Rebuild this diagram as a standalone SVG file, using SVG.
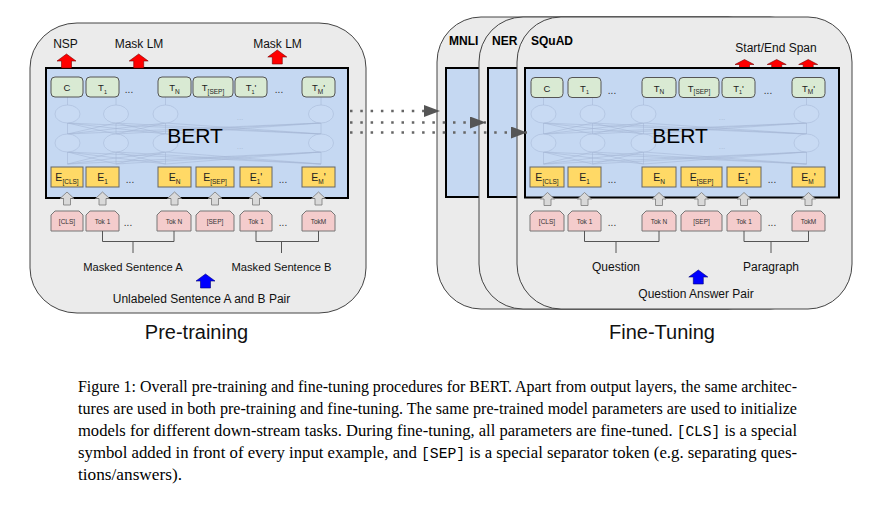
<svg xmlns="http://www.w3.org/2000/svg" xmlns:xlink="http://www.w3.org/1999/xlink" width="882" height="505" viewBox="0 0 882 505">
<style>
.panel{fill:#ebebeb;stroke:#444;stroke-width:1}
.bert{fill:#c5d8f2;stroke:#000;stroke-width:2}
.g{fill:#d9ead3;stroke:#555;stroke-width:1}
.y{fill:#ffd966;stroke:#666;stroke-width:1}
.p{fill:#f4cccc;stroke:#777;stroke-width:1}
.sans{font-family:"Liberation Sans",Arial,Helvetica,sans-serif;fill:#111}
.tg{font-family:"Liberation Sans",Arial,sans-serif;font-size:9.5px;fill:#222;text-anchor:middle}
.ty{font-family:"Liberation Sans",Arial,sans-serif;font-size:10.5px;fill:#222;text-anchor:middle}
.tp{font-family:"Liberation Sans",Arial,sans-serif;font-size:6.5px;fill:#333;text-anchor:middle}
.sb{font-size:6.5px}
.sb5{font-size:5.5px}
.dots{font-family:"Liberation Sans",Arial,sans-serif;font-size:10px;fill:#333;text-anchor:middle}
.mid{text-anchor:middle}
.lab{font-size:12px}
.labs{font-size:11.2px}
.task{font-family:"Liberation Sans",Arial,sans-serif;font-size:12px;font-weight:bold;fill:#000}
.big{font-size:20px}
.bertt{font-family:"Liberation Sans",Arial,sans-serif;font-size:21px;fill:#000;text-anchor:middle}
.net{fill:none;stroke:#a3b4d2;stroke-width:0.7;opacity:0.75}
.ell{fill:#c9dbf4;stroke:#a9bad8;stroke-width:0.7;opacity:0.8}
.fdots{font-family:"Liberation Sans",Arial,sans-serif;font-size:8px;fill:#a9b9d3;text-anchor:middle}
.red{fill:#ff0000;stroke:#7a0000;stroke-width:0.6}
.blue{fill:#0000ff;stroke:#00007a;stroke-width:0.6}
.gray{fill:#d9d9d9;stroke:#7a7a7a;stroke-width:0.8}
.br{fill:none;stroke:#555;stroke-width:1}
.dot{fill:none;stroke:#666;stroke-width:2.5;stroke-dasharray:2.5 7.8}
.cap{font-family:"Liberation Serif","Times New Roman",serif;font-size:16.5px;fill:#000}
.mono{font-family:"Liberation Mono","Courier New",monospace;font-size:14.5px}
</style>
<defs>
<path id="bigArrow" d="M0,0 L9.5,7 L5,7 L5,14 L-5,14 L-5,7 L-9.5,7 Z"/>
<path id="spanArrow" d="M0,0 L9.5,5 L5,5 L5,10 L-5,10 L-5,5 L-9.5,5 Z"/>
<path id="smallArrow" d="M0,0 L7,6.5 L3.5,6.5 L3.5,13 L-3.5,13 L-3.5,6.5 L-7,6.5 Z"/>
<marker id="ah" markerUnits="userSpaceOnUse" markerWidth="16" markerHeight="12" refX="16" refY="6" orient="auto">
<path d="M0,0 L16,6 L0,12 Z" fill="#555"/>
</marker>
</defs>

<!-- ============ PRE-TRAINING ============ -->
<g id="pretrain-panel">
<rect class="panel" x="30" y="23" width="336" height="290" rx="47" ry="45"/>
<rect class="bert" x="46" y="68" width="302" height="130"/>
<g id="pre-net">
<path class="net" d="M67.5 97V105M116 97V105M165.5 97V105M321 97V105M67.5 123V134M116 123V134M165.5 123V134M321 123V134M67.5 152V164M116 152V164M165.5 152V164M321 152V164"/>
<path class="net" d="M67.5 134L116 123M67.5 134L165.5 123M67.5 134L321 123M116 134L67.5 123M116 134L165.5 123M116 134L321 123M165.5 134L67.5 123M165.5 134L116 123M165.5 134L321 123M321 134L67.5 123M321 134L116 123M321 134L165.5 123M67.5 164L116 152M67.5 164L165.5 152M67.5 164L321 152M116 164L67.5 152M116 164L165.5 152M116 164L321 152M165.5 164L67.5 152M165.5 164L116 152M165.5 164L321 152M321 164L67.5 152M321 164L116 152M321 164L165.5 152"/>
<ellipse class="ell" cx="67.5" cy="114" rx="12.5" ry="9"/>
<ellipse class="ell" cx="116" cy="114" rx="12.5" ry="9"/>
<ellipse class="ell" cx="165.5" cy="114" rx="12.5" ry="9"/>
<ellipse class="ell" cx="321" cy="114" rx="12.5" ry="9"/>
<ellipse class="ell" cx="67.5" cy="143" rx="12.5" ry="9"/>
<ellipse class="ell" cx="116" cy="143" rx="12.5" ry="9"/>
<ellipse class="ell" cx="165.5" cy="143" rx="12.5" ry="9"/>
<ellipse class="ell" cx="321" cy="143" rx="12.5" ry="9"/>
<text class="fdots" x="240" y="120">...</text>
<text class="fdots" x="240" y="149">...</text>
</g>
<text class="bertt" x="195" y="143">BERT</text>
</g>

<g id="pre-out-labels">
<text class="sans mid lab" x="65.5" y="48">NSP</text>
<text class="sans mid lab" x="139" y="48">Mask LM</text>
<text class="sans mid lab" x="277.5" y="48">Mask LM</text>
<use href="#bigArrow" class="red" x="66.5" y="54"/>
<use href="#bigArrow" class="red" x="138.7" y="54"/>
<use href="#bigArrow" class="red" x="277.3" y="50"/>
</g>

<g id="pre-T-row">
<rect class="g" x="51" y="77" width="32" height="20" rx="4"/>
<text class="tg" x="67" y="91">C</text>
<rect class="g" x="86" y="77" width="33" height="20" rx="4"/>
<text class="tg" x="102.5" y="91">T<tspan class="sb5" dy="2.5">1</tspan></text>
<text class="dots" x="129" y="93">...</text>
<rect class="g" x="158" y="77" width="33" height="20" rx="4"/>
<text class="tg" x="174.5" y="91">T<tspan class="sb" dy="2.5">N</tspan></text>
<rect class="g" x="193" y="77" width="40" height="20" rx="4"/>
<text class="tg" x="213" y="91">T<tspan class="sb" dy="2.5">[SEP]</tspan></text>
<rect class="g" x="235" y="77" width="32" height="20" rx="4"/>
<text class="tg" x="251" y="91">T<tspan class="sb5" dy="2.5">1</tspan><tspan dy="-2.5">'</tspan></text>
<text class="dots" x="279" y="93">...</text>
<rect class="g" x="302" y="77" width="33" height="20" rx="4"/>
<text class="tg" x="318.5" y="91">T<tspan class="sb" dy="2.5">M</tspan><tspan dy="-2.5">'</tspan></text>
</g>

<g id="pre-E-row">
<rect class="y" x="51" y="167" width="32" height="20"/>
<text class="ty" x="67" y="181">E<tspan class="sb" dy="3">[CLS]</tspan></text>
<rect class="y" x="86" y="167" width="33" height="20"/>
<text class="ty" x="102.5" y="181">E<tspan class="sb" dy="3">1</tspan></text>
<text class="dots" x="130" y="183">...</text>
<rect class="y" x="158" y="167" width="33" height="20"/>
<text class="ty" x="174.5" y="181">E<tspan class="sb" dy="3">N</tspan></text>
<rect class="y" x="196" y="167" width="38" height="20"/>
<text class="ty" x="215" y="181">E<tspan class="sb" dy="3">[SEP]</tspan></text>
<rect class="y" x="240" y="167" width="32" height="20"/>
<text class="ty" x="256" y="181">E<tspan class="sb" dy="3">1</tspan><tspan dy="-3">'</tspan></text>
<text class="dots" x="283" y="183">...</text>
<rect class="y" x="302" y="167" width="33" height="20"/>
<text class="ty" x="318.5" y="181">E<tspan class="sb" dy="3">M</tspan><tspan dy="-3">'</tspan></text>
</g>

<g id="pre-gray-arrows">
<use href="#smallArrow" class="gray" x="67" y="192"/>
<use href="#smallArrow" class="gray" x="102.5" y="192"/>
<use href="#smallArrow" class="gray" x="174.5" y="192"/>
<use href="#smallArrow" class="gray" x="215" y="192"/>
<use href="#smallArrow" class="gray" x="256" y="192"/>
<use href="#smallArrow" class="gray" x="318.5" y="192"/>
</g>

<g id="pre-tok-row">
<path class="p" d="M51 231V215L55 211H79L83 215V231Z"/>
<text class="tp" x="67" y="223.5">[CLS]</text>
<path class="p" d="M86 231V215L90 211H115L119 215V231Z"/>
<text class="tp" x="102.5" y="223.5">Tok 1</text>
<text class="dots" x="128" y="226">...</text>
<path class="p" d="M157 231V215L161 211H187L191 215V231Z"/>
<text class="tp" x="174" y="223.5">Tok N</text>
<path class="p" d="M196 231V215L200 211H230L234 215V231Z"/>
<text class="tp" x="215" y="223.5">[SEP]</text>
<path class="p" d="M240 231V215L244 211H268L272 215V231Z"/>
<text class="tp" x="256" y="223.5">Tok 1</text>
<text class="dots" x="283" y="226">...</text>
<path class="p" d="M302 231V215L306 211H331L335 215V231Z"/>
<text class="tp" x="318.5" y="223.5">TokM</text>
</g>

<g id="pre-inputs">
<path class="br" d="M102.5 231V241.5H174V231M133 241.5V253"/>
<path class="br" d="M256 231V241.5H318.5V231M281.5 241.5V253"/>
<text class="sans mid labs" x="133" y="271">Masked Sentence A</text>
<text class="sans mid labs" x="281.5" y="271">Masked Sentence B</text>
<use href="#bigArrow" class="blue" x="205.5" y="274"/>
<text class="sans mid lab" x="201.5" y="302.5">Unlabeled Sentence A and B Pair</text>
</g>
<text id="pretrain-title" class="sans mid big" x="196.5" y="339">Pre-training</text>

<!-- ============ FINE-TUNING ============ -->
<g id="mnli-panel">
<rect class="panel" x="437" y="17" width="335" height="292" rx="44" ry="45"/>
<rect class="bert" x="446" y="68" width="80" height="129"/>
<text class="task" x="449" y="45">MNLI</text>
</g>
<g id="ner-panel">
<rect class="panel" x="479" y="17" width="335" height="292" rx="44" ry="45"/>
<rect class="bert" x="488" y="68" width="80" height="129"/>
<text class="task" x="492" y="45">NER</text>
</g>
<g id="squad-panel">
<rect class="panel" x="517" y="17" width="335" height="292" rx="44" ry="45"/>
<text class="task" x="531" y="45">SQuAD</text>
<text class="sans mid lab" x="776" y="51.5">Start/End Span</text>
<use href="#spanArrow" class="red" x="744.5" y="59.5"/>
<use href="#spanArrow" class="red" x="776.7" y="59.5"/>
<use href="#spanArrow" class="red" x="808.2" y="59.5"/>
<rect class="bert" x="525" y="68" width="314" height="129.5"/>
<g id="ft-net">
<path class="net" d="M543.5 97V105M592.5 97V105M643.5 97V105M806.5 97V105M543.5 123V134M592.5 123V134M643.5 123V134M806.5 123V134M543.5 152V164M592.5 152V164M643.5 152V164M806.5 152V164"/>
<path class="net" d="M543.5 134L592.5 123M543.5 134L643.5 123M543.5 134L806.5 123M592.5 134L543.5 123M592.5 134L643.5 123M592.5 134L806.5 123M643.5 134L543.5 123M643.5 134L592.5 123M643.5 134L806.5 123M806.5 134L543.5 123M806.5 134L592.5 123M806.5 134L643.5 123M543.5 164L592.5 152M543.5 164L643.5 152M543.5 164L806.5 152M592.5 164L543.5 152M592.5 164L643.5 152M592.5 164L806.5 152M643.5 164L543.5 152M643.5 164L592.5 152M643.5 164L806.5 152M806.5 164L543.5 152M806.5 164L592.5 152M806.5 164L643.5 152"/>
<ellipse class="ell" cx="543.5" cy="114" rx="12.5" ry="9"/>
<ellipse class="ell" cx="592.5" cy="114" rx="12.5" ry="9"/>
<ellipse class="ell" cx="643.5" cy="114" rx="12.5" ry="9"/>
<ellipse class="ell" cx="806.5" cy="114" rx="12.5" ry="9"/>
<ellipse class="ell" cx="543.5" cy="143" rx="12.5" ry="9"/>
<ellipse class="ell" cx="592.5" cy="143" rx="12.5" ry="9"/>
<ellipse class="ell" cx="643.5" cy="143" rx="12.5" ry="9"/>
<ellipse class="ell" cx="806.5" cy="143" rx="12.5" ry="9"/>
<text class="fdots" x="722" y="120">...</text>
<text class="fdots" x="722" y="149">...</text>
</g>
<text class="bertt" x="680" y="143">BERT</text>
</g>

<g id="ft-T-row">
<rect class="g" x="531" y="77.5" width="32" height="20" rx="4"/>
<text class="tg" x="547" y="91.5">C</text>
<rect class="g" x="568" y="77.5" width="33" height="20" rx="4"/>
<text class="tg" x="584.5" y="91.5">T<tspan class="sb5" dy="2.5">1</tspan></text>
<text class="dots" x="612" y="93.5">...</text>
<rect class="g" x="642" y="77.5" width="34" height="20" rx="4"/>
<text class="tg" x="659" y="91.5">T<tspan class="sb" dy="2.5">N</tspan></text>
<rect class="g" x="679" y="77.5" width="40" height="20" rx="4"/>
<text class="tg" x="699" y="91.5">T<tspan class="sb" dy="2.5">[SEP]</tspan></text>
<rect class="g" x="722" y="77.5" width="33" height="20" rx="4"/>
<text class="tg" x="738.5" y="91.5">T<tspan class="sb5" dy="2.5">1</tspan><tspan dy="-2.5">'</tspan></text>
<text class="dots" x="768" y="93.5">...</text>
<rect class="g" x="792" y="77.5" width="33" height="20" rx="4"/>
<text class="tg" x="808.5" y="91.5">T<tspan class="sb" dy="2.5">M</tspan><tspan dy="-2.5">'</tspan></text>
</g>

<g id="ft-E-row">
<rect class="y" x="530" y="167" width="34" height="20"/>
<text class="ty" x="547" y="181">E<tspan class="sb" dy="3">[CLS]</tspan></text>
<rect class="y" x="568" y="167" width="33" height="20"/>
<text class="ty" x="584.5" y="181">E<tspan class="sb" dy="3">1</tspan></text>
<text class="dots" x="612" y="183">...</text>
<rect class="y" x="642" y="167" width="34" height="20"/>
<text class="ty" x="659" y="181">E<tspan class="sb" dy="3">N</tspan></text>
<rect class="y" x="681" y="167" width="41" height="20"/>
<text class="ty" x="701.5" y="181">E<tspan class="sb" dy="3">[SEP]</tspan></text>
<rect class="y" x="727" y="167" width="34" height="20"/>
<text class="ty" x="744" y="181">E<tspan class="sb" dy="3">1</tspan><tspan dy="-3">'</tspan></text>
<text class="dots" x="772" y="183">...</text>
<rect class="y" x="792" y="167" width="33" height="20"/>
<text class="ty" x="808.5" y="181">E<tspan class="sb" dy="3">M</tspan><tspan dy="-3">'</tspan></text>
</g>

<g id="ft-gray-arrows">
<use href="#smallArrow" class="gray" x="547.5" y="192.5"/>
<use href="#smallArrow" class="gray" x="584.5" y="192.5"/>
<use href="#smallArrow" class="gray" x="659" y="192.5"/>
<use href="#smallArrow" class="gray" x="701.5" y="192.5"/>
<use href="#smallArrow" class="gray" x="744" y="192.5"/>
<use href="#smallArrow" class="gray" x="808.5" y="192.5"/>
</g>

<g id="ft-tok-row">
<path class="p" d="M530 231V215L534 211H560L564 215V231Z"/>
<text class="tp" x="547" y="223.5">[CLS]</text>
<path class="p" d="M568 231V215L572 211H597L601 215V231Z"/>
<text class="tp" x="584.5" y="223.5">Tok 1</text>
<text class="dots" x="612" y="226">...</text>
<path class="p" d="M642 231V215L646 211H672L676 215V231Z"/>
<text class="tp" x="659" y="223.5">Tok N</text>
<path class="p" d="M681 231V215L685 211H718L722 215V231Z"/>
<text class="tp" x="701.5" y="223.5">[SEP]</text>
<path class="p" d="M727 231V215L731 211H757L761 215V231Z"/>
<text class="tp" x="744" y="223.5">Tok 1</text>
<text class="dots" x="772" y="226">...</text>
<path class="p" d="M792 231V215L796 211H821L825 215V231Z"/>
<text class="tp" x="808.5" y="223.5">TokM</text>
</g>

<g id="ft-inputs">
<path class="br" d="M584.5 231V241.5H659V231M616 241.5V253"/>
<path class="br" d="M744 231V241.5H808.5V231M771 241.5V253"/>
<text class="sans mid lab" x="616" y="270.5">Question</text>
<text class="sans mid lab" x="771" y="270.5">Paragraph</text>
<use href="#bigArrow" class="blue" x="698.3" y="270"/>
<text class="sans mid lab" x="696" y="297.5">Question Answer Pair</text>
</g>
<text id="finetune-title" class="sans mid big" x="662" y="339">Fine-Tuning</text>

<!-- ============ CONNECTORS ============ -->
<g id="connectors">
<line class="dot" x1="350" y1="111" x2="440" y2="111" marker-end="url(#ah)"/>
<line class="dot" x1="350" y1="122.5" x2="486" y2="122.5" marker-end="url(#ah)"/>
<line class="dot" x1="350" y1="132.5" x2="527" y2="132.5" marker-end="url(#ah)"/>
</g>

<!-- ============ CAPTION ============ -->
<g id="caption">
<text class="cap" x="78" y="392" textLength="719" lengthAdjust="spacingAndGlyphs">Figure 1: Overall pre-training and fine-tuning procedures for BERT. Apart from output layers, the same architec-</text>
<text class="cap" x="78" y="414" textLength="719" lengthAdjust="spacingAndGlyphs">tures are used in both pre-training and fine-tuning.  The same pre-trained model parameters are used to initialize</text>
<text class="cap" x="78" y="436" textLength="719" lengthAdjust="spacingAndGlyphs">models for different down-stream tasks.  During fine-tuning, all parameters are fine-tuned.  <tspan class="mono">[CLS]</tspan> is a special</text>
<text class="cap" x="78" y="458" textLength="719" lengthAdjust="spacingAndGlyphs">symbol added in front of every input example, and <tspan class="mono">[SEP]</tspan> is a special separator token (e.g.  separating ques-</text>
<text class="cap" x="78" y="480" textLength="104" lengthAdjust="spacingAndGlyphs">tions/answers).</text>
</g>
</svg>
